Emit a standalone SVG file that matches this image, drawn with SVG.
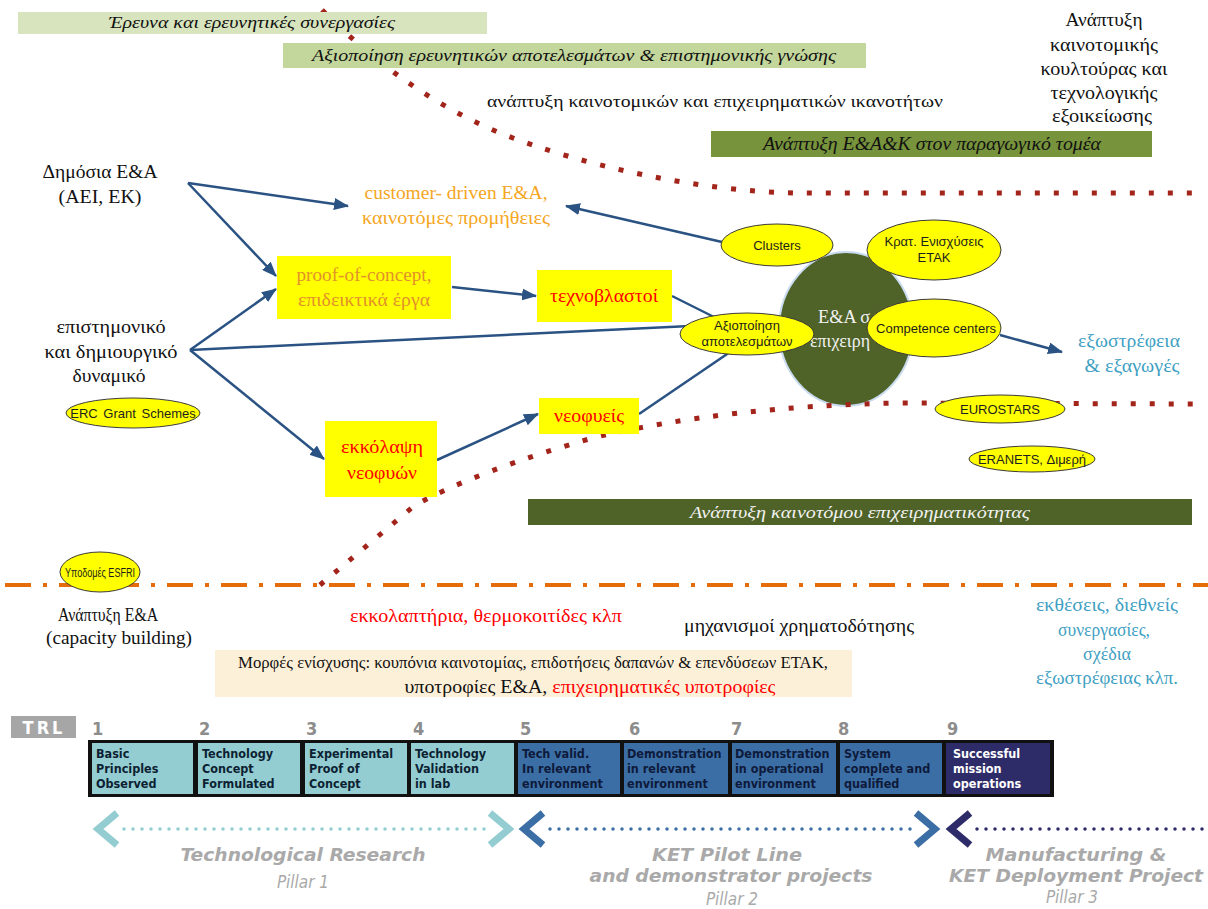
<svg xmlns="http://www.w3.org/2000/svg" width="1208" height="909" viewBox="0 0 1208 909">
<style>
.serif{font-family:"Liberation Serif","Noto Sans CJK SC",serif;}
.t18{font-size:18px;}
.t17{font-size:17px;}
.mid{text-anchor:middle;}
.ital{font-style:italic;}
.conn{fill:none;stroke:#2a5283;stroke-width:2.5;}
.ell{fill:#ffff00;stroke:#3a3a3a;stroke-width:1;}
.ellt{font-family:"Liberation Sans",Arial,sans-serif;font-size:13px;fill:#1e1e1e;text-anchor:middle;}
.ybox{fill:#ffff00;}
.red{fill:#ff0000;}
.blue{fill:#3f9fc3;}
.dk{fill:#111111;}
.dotred{fill:none;stroke:#a3241a;stroke-width:5;stroke-dasharray:5 14;}
.cell{stroke:none;}
.celltxt{font-family:"DejaVu Sans Condensed","DejaVu Sans",sans-serif;font-stretch:condensed;font-weight:bold;font-size:12.5px;}
.num{font-family:"DejaVu Sans Condensed","DejaVu Sans",sans-serif;font-stretch:condensed;font-weight:bold;font-size:18px;fill:#8c8c8c;}
.pill{font-family:"DejaVu Sans Condensed","DejaVu Sans",sans-serif;font-stretch:condensed;font-weight:bold;font-style:italic;font-size:18px;fill:#a9a9a9;text-anchor:middle;}
.pilln{font-family:"DejaVu Sans Condensed","DejaVu Sans",sans-serif;font-stretch:condensed;font-style:italic;font-size:17px;fill:#a9a9a9;text-anchor:middle;}
.chev{fill:none;stroke-width:7;stroke-linejoin:miter;}
.dots{fill:none;stroke-width:3.5;stroke-linecap:round;stroke-dasharray:0 9;}
</style>
<defs>
<marker id="ah" markerUnits="userSpaceOnUse" viewBox="0 0 15 12" markerWidth="15" markerHeight="12" refX="14" refY="6" orient="auto">
<path d="M0,0 L15,6 L0,12 z" fill="#2a5283"/>
</marker>
</defs>
<rect width="1208" height="909" fill="#ffffff"/>

<!-- background lines -->
<g id="lines">
<line x1="5" y1="585" x2="1208" y2="585" stroke="#e46c0a" stroke-width="4" stroke-dasharray="26 12 4 12"/>
<path class="dotred" d="M322,10 C360,48 420,100 500,133 C580,165 700,192 800,193 L1205,193"/>
</g>

<!-- top labels -->
<g id="band-research">
<rect x="18" y="12" width="469" height="22" fill="#d7e4bd"/>
<text class="serif t17 ital mid dk" x="252" y="28" textLength="286" lengthAdjust="spacingAndGlyphs">Έρευνα και ερευνητικές συνεργασίες</text>
</g>
<g id="band-exploitation">
<rect x="283" y="43" width="583" height="25" fill="#c3d69b"/>
<text class="serif t17 ital mid dk" x="574" y="61" textLength="524" lengthAdjust="spacingAndGlyphs">Αξιοποίηση ερευνητικών αποτελεσμάτων &amp; επιστημονικής γνώσης</text>
</g>
<g id="label-capabilities">
<text class="serif t17 mid dk" x="715" y="107" textLength="456" lengthAdjust="spacingAndGlyphs">ανάπτυξη καινοτομικών και επιχειρηματικών ικανοτήτων</text>
</g>
<g id="label-culture">
<text class="serif t18 mid dk" x="1104" y="26" textLength="77" lengthAdjust="spacingAndGlyphs">Ανάπτυξη</text>
<text class="serif t18 mid dk" x="1104" y="51" textLength="108" lengthAdjust="spacingAndGlyphs">καινοτομικής</text>
<text class="serif t18 mid dk" x="1104" y="75" textLength="127" lengthAdjust="spacingAndGlyphs">κουλτούρας και</text>
<text class="serif t18 mid dk" x="1104" y="99" textLength="107" lengthAdjust="spacingAndGlyphs">τεχνολογικής</text>
<text class="serif t18 mid dk" x="1102" y="122" textLength="100" lengthAdjust="spacingAndGlyphs">εξοικείωσης</text>
</g>
<g id="band-productive">
<rect x="711" y="131" width="441" height="26" fill="#77933c"/>
<text class="serif t18 ital mid dk" x="932" y="150" textLength="338" lengthAdjust="spacingAndGlyphs">Ανάπτυξη Ε&amp;Α&amp;Κ στον παραγωγικό τομέα</text>
</g>

<!-- left labels -->
<g id="public-rd">
<text class="serif t18 mid dk" x="100" y="178" textLength="115" lengthAdjust="spacingAndGlyphs">Δημόσια Ε&amp;Α</text>
<text class="serif t18 mid dk" x="100" y="203" textLength="83" lengthAdjust="spacingAndGlyphs">(ΑΕΙ, ΕΚ)</text>
</g>
<g id="scientific">
<text class="serif t18 mid dk" x="111" y="333" textLength="109" lengthAdjust="spacingAndGlyphs">επιστημονικό</text>
<text class="serif t18 mid dk" x="111" y="358" textLength="133" lengthAdjust="spacingAndGlyphs">και δημιουργικό</text>
<text class="serif t18 mid dk" x="109" y="382" textLength="73" lengthAdjust="spacingAndGlyphs">δυναμικό</text>
</g>
<g id="erc">
<ellipse class="ell" cx="133" cy="413" rx="67" ry="15"/>
<text class="ellt" x="133" y="418" word-spacing="2">ERC Grant Schemes</text>
</g>

<!-- central circle -->
<g id="rd-business">
<ellipse cx="846" cy="329" rx="67" ry="77" fill="#4f6228" stroke="#c9dbef" stroke-width="2"/>
<text class="serif t18" x="818" y="323" fill="#f2f2f2" textLength="52" lengthAdjust="spacingAndGlyphs">Ε&amp;Α σ</text>
<text class="serif t18" x="810" y="347" fill="#f2f2f2" textLength="60" lengthAdjust="spacingAndGlyphs">επιχειρη</text>
</g>

<!-- connectors -->
<g id="connectors">
<line class="conn" x1="188" y1="183" x2="348" y2="206" marker-end="url(#ah)"/>
<line class="conn" x1="188" y1="183" x2="276" y2="276" marker-end="url(#ah)"/>
<line class="conn" x1="190" y1="350" x2="276" y2="289" marker-end="url(#ah)"/>
<line class="conn" x1="190" y1="350" x2="690" y2="326"/>
<line class="conn" x1="190" y1="350" x2="324" y2="459" marker-end="url(#ah)"/>
<line class="conn" x1="452" y1="287" x2="536" y2="296" marker-end="url(#ah)"/>
<line class="conn" x1="672" y1="296" x2="716" y2="318"/>
<line class="conn" x1="437" y1="460" x2="538" y2="414" marker-end="url(#ah)"/>
<line class="conn" x1="639" y1="414" x2="733" y2="350"/>
<line class="conn" x1="722" y1="242" x2="566" y2="206" marker-end="url(#ah)"/>
<line class="conn" x1="1000" y1="335" x2="1062" y2="352" marker-end="url(#ah)"/>
</g>

<g id="lines-2">
<path class="dotred" d="M320,585 L414,506 C450,485 520,458 600,436 C680,418 780,405 900,403 L1205,404"/>
</g>

<!-- nodes -->
<g id="customer-driven">
<text class="serif t18 mid" x="456" y="199" fill="#f5a623" textLength="183" lengthAdjust="spacingAndGlyphs">customer-  driven  Ε&amp;Α,</text>
<text class="serif t18 mid" x="456" y="224" fill="#f5a623" textLength="188" lengthAdjust="spacingAndGlyphs">καινοτόμες προμήθειες</text>
</g>
<g id="proof-of-concept">
<rect class="ybox" x="277" y="256" width="174" height="63"/>
<text class="serif t18 mid" x="364" y="281" fill="#e3912a" textLength="135" lengthAdjust="spacingAndGlyphs">proof-of-concept,</text>
<text class="serif t18 mid" x="364" y="306" fill="#e3912a" textLength="132" lengthAdjust="spacingAndGlyphs">επιδεικτικά έργα</text>
</g>
<g id="spinoffs">
<rect class="ybox" x="537" y="270" width="135" height="52"/>
<text class="serif t18 mid red" x="604" y="302" textLength="108" lengthAdjust="spacingAndGlyphs">τεχνοβλαστοί</text>
</g>
<g id="incubation">
<rect class="ybox" x="325" y="421" width="112" height="76"/>
<text class="serif t18 mid red" x="382" y="453" textLength="82" lengthAdjust="spacingAndGlyphs">εκκόλαψη</text>
<text class="serif t18 mid red" x="382" y="479" textLength="70" lengthAdjust="spacingAndGlyphs">νεοφυών</text>
</g>
<g id="startups">
<rect class="ybox" x="539" y="398" width="100" height="36"/>
<text class="serif t18 mid red" x="589" y="422" textLength="70" lengthAdjust="spacingAndGlyphs">νεοφυείς</text>
</g>
<g id="clusters">
<ellipse class="ell" cx="777" cy="245" rx="56" ry="21"/>
<text class="ellt" x="777" y="250">Clusters</text>
</g>
<g id="state-aid">
<ellipse class="ell" cx="934" cy="250" rx="67" ry="30"/>
<text class="ellt" x="934" y="246">Κρατ. Ενισχύσεις</text>
<text class="ellt" x="934" y="262">ETAK</text>
</g>
<g id="exploitation">
<ellipse class="ell" cx="747" cy="334" rx="67" ry="21"/>
<text class="ellt" x="747" y="330">Αξιοποίηση</text>
<text class="ellt" x="747" y="346">αποτελεσμάτων</text>
</g>
<g id="competence">
<ellipse class="ell" cx="934" cy="328" rx="67" ry="29"/>
<text class="ellt" x="936" y="333">Competence  centers</text>
</g>
<g id="outward">
<text class="serif t18 mid blue" x="1129" y="347" textLength="102" lengthAdjust="spacingAndGlyphs">εξωστρέφεια</text>
<text class="serif t18 mid blue" x="1132" y="372" textLength="95" lengthAdjust="spacingAndGlyphs">&amp; εξαγωγές</text>
</g>
<g id="eurostars">
<ellipse class="ell" cx="1000" cy="409" rx="65" ry="14"/>
<text class="ellt" x="1000" y="414">EUROSTARS</text>
</g>
<g id="eranets">
<ellipse class="ell" cx="1032" cy="459" rx="63" ry="13"/>
<text class="ellt" x="1032" y="464">ERANETS,  Διμερή</text>
</g>
<g id="band-entrepreneurship">
<rect x="528" y="499" width="664" height="26" fill="#4f6228"/>
<text class="serif t17 ital mid" x="860" y="518" fill="#f2f2f2" textLength="340" lengthAdjust="spacingAndGlyphs">Ανάπτυξη καινοτόμου επιχειρηματικότητας</text>
</g>
<g id="esfri">
<ellipse class="ell" cx="100" cy="572" rx="40" ry="20"/>
<text class="ellt" x="100" y="577" style="font-size:12px" textLength="70" lengthAdjust="spacingAndGlyphs">Υποδομές ESFRI</text>
</g>
<g id="capacity">
<text class="serif t18 mid dk" x="108" y="621" textLength="100" lengthAdjust="spacingAndGlyphs">Ανάπτυξη Ε&amp;Α</text>
<text class="serif t18 mid dk" x="119" y="644" textLength="146" lengthAdjust="spacingAndGlyphs">(capacity  building)</text>
</g>
<g id="incubators">
<text class="serif t18 mid red" x="486" y="622" textLength="272" lengthAdjust="spacingAndGlyphs">εκκολαπτήρια,  θερμοκοιτίδες κλπ</text>
</g>
<g id="funding">
<text class="serif t18 mid dk" x="799" y="632" textLength="230" lengthAdjust="spacingAndGlyphs">μηχανισμοί χρηματοδότησης</text>
</g>
<g id="exhibitions">
<text class="serif t18 mid blue" x="1107" y="611" textLength="142" lengthAdjust="spacingAndGlyphs">εκθέσεις, διεθνείς</text>
<text class="serif t18 mid blue" x="1104" y="636" textLength="92" lengthAdjust="spacingAndGlyphs">συνεργασίες,</text>
<text class="serif t18 mid blue" x="1107" y="660" textLength="48" lengthAdjust="spacingAndGlyphs">σχέδια</text>
<text class="serif t18 mid blue" x="1107" y="684" textLength="142" lengthAdjust="spacingAndGlyphs">εξωστρέφειας κλπ.</text>
</g>
<g id="support-forms">
<rect x="215" y="650" width="637" height="47" fill="#fdf0d8"/>
<text class="serif t17 mid dk" x="533" y="668" textLength="590" lengthAdjust="spacingAndGlyphs">Μορφές ενίσχυσης: κουπόνια καινοτομίας, επιδοτήσεις δαπανών &amp; επενδύσεων ΕΤΑΚ,</text>
<text class="serif t18 mid dk" x="590" y="693" textLength="371" lengthAdjust="spacingAndGlyphs">υποτροφίες Ε&amp;Α, <tspan fill="#ff0000">επιχειρηματικές υποτροφίες</tspan></text>
</g>

<!-- TRL scale -->
<g id="trl">
<rect x="11" y="716" width="65" height="22" fill="#a6a6a6"/>
<text x="44" y="734" text-anchor="middle" font-family="DejaVu Sans Condensed, DejaVu Sans, sans-serif" font-weight="bold" font-size="18" fill="#ffffff" letter-spacing="3">TRL</text>
<text class="num" x="92" y="735">1</text>
<text class="num" x="199" y="735">2</text>
<text class="num" x="306" y="735">3</text>
<text class="num" x="413" y="735">4</text>
<text class="num" x="520" y="735">5</text>
<text class="num" x="629" y="735">6</text>
<text class="num" x="731" y="735">7</text>
<text class="num" x="838" y="735">8</text>
<text class="num" x="947" y="735">9</text>
<rect x="88" y="740" width="966" height="57" fill="#111111"/>
</g>
<g id="trl1"><rect class="cell" x="92" y="743" width="101" height="51" fill="#93cdd1"/>
<text class="celltxt" fill="#0d1f33"><tspan x="96" y="758">Basic</tspan><tspan x="96" y="773">Principles</tspan><tspan x="96" y="788">Observed</tspan></text></g>
<g id="trl2"><rect class="cell" x="198" y="743" width="102" height="51" fill="#93cdd1"/>
<text class="celltxt" fill="#0d1f33"><tspan x="202" y="758">Technology</tspan><tspan x="202" y="773">Concept</tspan><tspan x="202" y="788">Formulated</tspan></text></g>
<g id="trl3"><rect class="cell" x="305" y="743" width="102" height="51" fill="#93cdd1"/>
<text class="celltxt" fill="#0d1f33"><tspan x="309" y="758">Experimental</tspan><tspan x="309" y="773">Proof of</tspan><tspan x="309" y="788">Concept</tspan></text></g>
<g id="trl4"><rect class="cell" x="411" y="743" width="103" height="51" fill="#93cdd1"/>
<text class="celltxt" fill="#0d1f33"><tspan x="415" y="758">Technology</tspan><tspan x="415" y="773">Validation</tspan><tspan x="415" y="788">in lab</tspan></text></g>
<g id="trl5"><rect class="cell" x="518" y="743" width="102" height="51" fill="#3c6ea6"/>
<text class="celltxt" fill="#0e1a3a"><tspan x="522" y="758">Tech valid.</tspan><tspan x="522" y="773">In relevant</tspan><tspan x="522" y="788">environment</tspan></text></g>
<g id="trl6"><rect class="cell" x="624" y="743" width="104" height="51" fill="#3c6ea6"/>
<text class="celltxt" fill="#0e1a3a"><tspan x="627" y="758">Demonstration</tspan><tspan x="627" y="773">in relevant</tspan><tspan x="627" y="788">environment</tspan></text></g>
<g id="trl7"><rect class="cell" x="732" y="743" width="104" height="51" fill="#3c6ea6"/>
<text class="celltxt" fill="#0e1a3a"><tspan x="735" y="758">Demonstration</tspan><tspan x="735" y="773">in operational</tspan><tspan x="735" y="788">environment</tspan></text></g>
<g id="trl8"><rect class="cell" x="840" y="743" width="102" height="51" fill="#3c6ea6"/>
<text class="celltxt" fill="#0e1a3a"><tspan x="844" y="758">System</tspan><tspan x="844" y="773">complete and</tspan><tspan x="844" y="788">qualified</tspan></text></g>
<g id="trl9"><rect class="cell" x="946" y="743" width="104" height="51" fill="#2e2c68"/>
<text class="celltxt" fill="#ffffff"><tspan x="953" y="758">Successful</tspan><tspan x="953" y="773">mission</tspan><tspan x="953" y="788">operations</tspan></text></g>

<!-- pillars -->
<g id="pillar1">
<polyline class="chev" points="117,813 98,829 117,845" stroke="#93cdd1"/>
<line class="dots" x1="124" y1="829" x2="486" y2="829" stroke="#93cdd1"/>
<polyline class="chev" points="490,813 509,829 490,845" stroke="#93cdd1"/>
<text class="pill" x="303" y="861" textLength="245" lengthAdjust="spacingAndGlyphs">Technological Research</text>
<text class="pilln" x="303" y="888">Pillar 1</text>
</g>
<g id="pillar2">
<polyline class="chev" points="543,813 524,829 543,845" stroke="#3c6ea6"/>
<line class="dots" x1="550" y1="829" x2="912" y2="829" stroke="#3c6ea6"/>
<polyline class="chev" points="916,813 935,829 916,845" stroke="#3c6ea6"/>
<text class="pill" x="727" y="861" textLength="150" lengthAdjust="spacingAndGlyphs">KET Pilot Line</text>
<text class="pill" x="731" y="882" textLength="283" lengthAdjust="spacingAndGlyphs">and demonstrator projects</text>
<text class="pilln" x="732" y="905">Pillar 2</text>
</g>
<g id="pillar3">
<polyline class="chev" points="970,813 951,829 970,845" stroke="#2e2c68"/>
<line class="dots" x1="977" y1="829" x2="1206" y2="829" stroke="#2e2c68"/>
<text class="pill" x="1076" y="861" textLength="181" lengthAdjust="spacingAndGlyphs">Manufacturing &amp;</text>
<text class="pill" x="1076" y="882" textLength="254" lengthAdjust="spacingAndGlyphs">KET Deployment Project</text>
<text class="pilln" x="1072" y="903">Pillar 3</text>
</g>
</svg>
